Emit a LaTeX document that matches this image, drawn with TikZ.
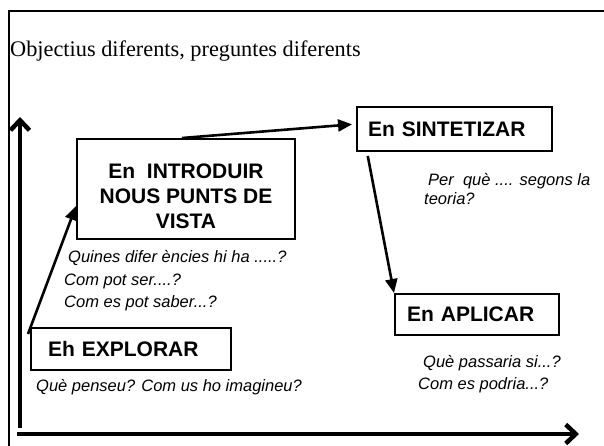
\documentclass[tikz,border=0pt]{standalone}
\usepackage{fontspec}
\setmainfont{Liberation Serif}
\newfontfamily\arialfont{Liberation Sans}
\usetikzlibrary{arrows.meta}

\begin{document}
\begin{tikzpicture}[x=1pt,y=-1pt,
	caixa/.style={draw,line width=2pt,inner sep=0pt,
		font=\arialfont\bfseries\fontsize{21}{25}\selectfont},
	pregunta/.style={anchor=base west,inner sep=0pt,
		font=\arialfont\itshape\fontsize{16.5}{22}\selectfont},
	fletxa/.style={line width=2.6pt,-{Triangle[length=14pt,width=12pt]}},
	eix/.style={line width=4.5pt,-{Straight Barb[length=10pt,width=19pt]}}]
	%\draw[help lines,step=20] (0,0) grid (604,445);
	\useasboundingbox (0,0) rectangle (604,445);
	\clip (0,0) rectangle (604,445);
	\draw[line width=1.5pt] (620,11) -| (9,460);
	
	\node[anchor=base west,inner sep=0pt,font=\fontsize{22.3}{26}\selectfont]
		(titol) at (10,56) {Objectius diferents, preguntes diferents};
	
	% caixes
	\node[caixa,minimum width=218pt,minimum height=100pt,align=center]
		(introduir) at (186,189) {\rule{0pt}{29pt}En\ \ INTRODUIR\\NOUS PUNTS DE\\VISTA};
	\node[caixa,minimum width=195pt,minimum height=44pt,text width=173pt,align=left]
		(sintetizar) at (454.5,129) {En SINTETIZAR};
	\node[caixa,minimum width=164pt,minimum height=41pt,text width=140pt,align=left]
		(aplicar) at (477,314.5) {En APLICAR};
	\node[caixa,minimum width=200pt,minimum height=42pt,text width=166pt,align=left]
		(explorar) at (131,349) {Eh EXPLORAR};
	
	% preguntes
	\node[pregunta] (q1) at (68,262) {Quines difer ències hi ha .....?};
	\node[pregunta] (q2) at (64,285) {Com pot ser....?};
	\node[pregunta] (q3) at (64,307) {Com es pot saber...?};
	\node[pregunta] (q4) at (428,185) {Per\ \ què .... segons la};
	\node[pregunta] (q5) at (424,204) {teoria?};
	\node[pregunta] (q6) at (423,367) {Què passaria si...?};
	\node[pregunta] (q7) at (418,389) {Com es podria...?};
	\node[pregunta] (q8) at (36,391) {Què penseu? Com us ho imagineu?};
	
	% fletxes
	\draw[fletxa] ([xshift=-2pt,yshift=-7pt]explorar.north west) -- ([yshift=-17pt]introduir.west);
	\draw[fletxa,shorten >=4pt] ([xshift=-4pt]introduir.north) -- ([yshift=5pt]sintetizar.west);
	\draw[fletxa,shorten <=4pt] ([xshift=11pt]sintetizar.south west) -- (aplicar.north west);
	
	% eixos
	\coordinate (ybase) at (20,428);
	\coordinate (ytop) at (20,117);
	\coordinate (xbase) at (17,434);
	\coordinate (xtip) at (579,434);
	\draw[eix] (ybase) -- (ytop);
	\draw[eix] (xbase) -- (xtip);
\end{tikzpicture}
\end{document}
